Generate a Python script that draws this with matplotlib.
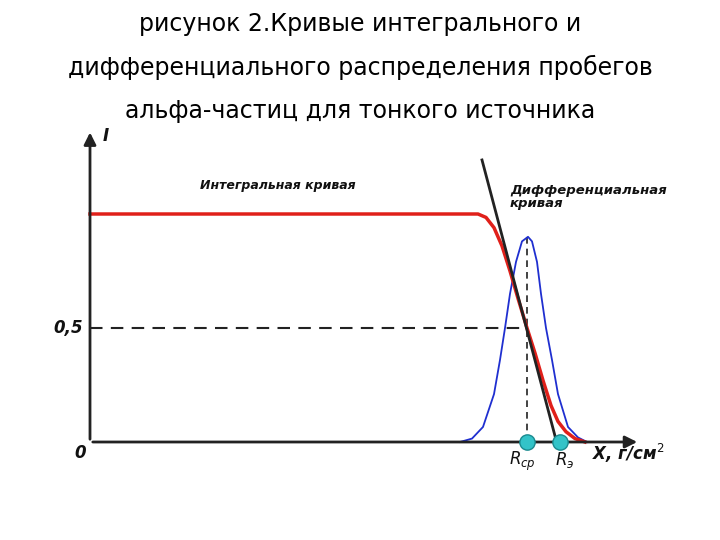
import numpy as np
import matplotlib.pyplot as plt

# x in chart units (horizontal position), I in relative units
red_x = [90, 478, 486, 494, 502, 510, 518, 527, 535, 543, 551, 558, 566, 575, 585]
red_i = [1.0, 1.0, 0.985, 0.94, 0.86, 0.75, 0.63, 0.5, 0.39, 0.27, 0.16, 0.09, 0.045, 0.015, 0.0]

blue_x = [460, 472, 483, 494, 500, 505, 510, 516, 522, 528, 532, 537, 541, 546, 552, 558, 568, 578, 587]
blue_i = [0.0, 0.015, 0.066, 0.21, 0.36, 0.5, 0.65, 0.79, 0.88, 0.9, 0.88, 0.79, 0.65, 0.5, 0.36, 0.21, 0.066, 0.02, 0.0]

tan_x = [482, 556]
tan_i = [1.237, 0.01]

r_mean = 527
r_extr = 560
half = 0.5
x0 = 90

fig = plt.figure(figsize=(7.2, 5.4), dpi=100)
ax = fig.add_axes([0, 0, 1, 1])
ax.set_xlim(0, 720)
ax.set_ylim(-98 / 228, 442 / 228)
ax.axis('off')

# axes with arrows
ax.annotate('', xy=(640, 0), xytext=(x0, 0),
            arrowprops=dict(arrowstyle='-|>', color='#222222', lw=2, mutation_scale=18))
ax.annotate('', xy=(x0, 1.37), xytext=(x0, 0),
            arrowprops=dict(arrowstyle='-|>', color='#222222', lw=2, mutation_scale=18))

ax.plot([x0, r_mean], [half, half], '--', color='#222222', lw=1.5, dashes=(6, 4))
ax.plot([r_mean, r_mean], [0, max(blue_i)], '--', color='#222222', lw=1.2, dashes=(4, 3))

ax.plot(blue_x, blue_i, color='#1f2fd0', lw=1.3)
ax.plot(red_x, red_i, color='#e0201a', lw=2.5)
ax.plot(tan_x, tan_i, color='#222222', lw=2)

ax.plot([r_mean, r_extr], [0, 0], 'o', ms=11, color='#33c3c8', mec='#1a8a8f', zorder=5)

bi = dict(fontstyle='italic', fontweight='bold', color='#111111')
ax.text(103, 1.34, 'I', fontsize=12, va='center', **bi)
ax.text(83, 0.5, '0,5', fontsize=12, ha='right', va='center', **bi)
ax.text(80, -0.05, '0', fontsize=12, ha='center', va='center', **bi)
ax.text(200, 1.11, 'Интегральная кривая', fontsize=9, **bi)
ax.text(510, 1.03, 'Дифференциальная\nкривая', fontsize=9.5, linespacing=1.0, **bi)
ax.text(522, -0.1, r'$R_{ср}$', fontsize=12, ha='center', color='#111111')
ax.text(565, -0.1, r'$R_э$', fontsize=12, ha='center', color='#111111')
ax.text(592, -0.08, 'X, г/см$^2$', fontsize=12, **bi)

fig.text(0.5, 0.955, 'рисунок 2.Кривые интегрального и', fontsize=17, ha='center', va='center')
fig.text(0.5, 0.875, 'дифференциального распределения пробегов', fontsize=17, ha='center', va='center')
fig.text(0.5, 0.795, 'альфа-частиц для тонкого источника', fontsize=17, ha='center', va='center')

fig.savefig('out.png', dpi=100)
